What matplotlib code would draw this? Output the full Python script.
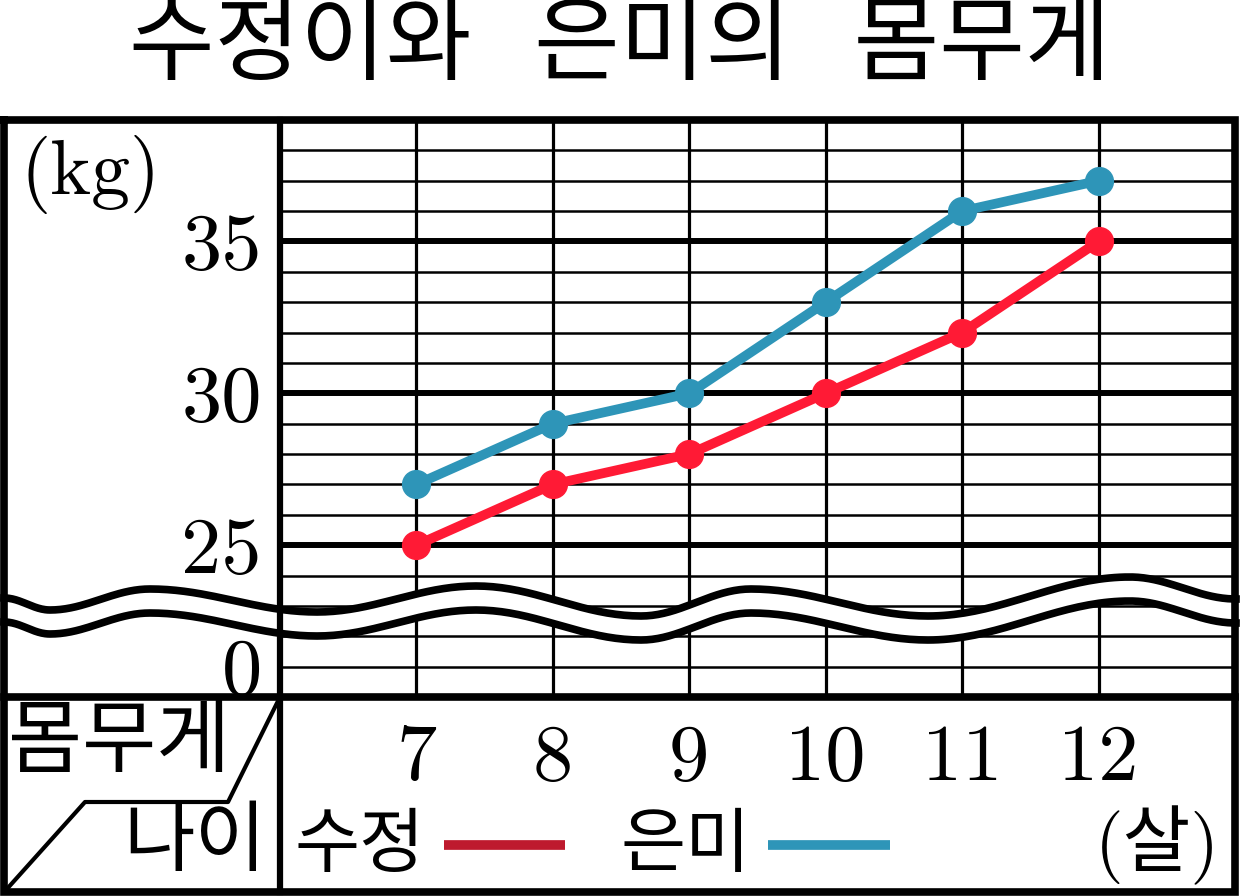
import numpy as np
import matplotlib.pyplot as plt

# data
ages = [7, 8, 9, 10, 11, 12]
sujeong = [25, 27, 28, 30, 32, 35]
eunmi = [27, 29, 30, 33, 36, 37]
# broken axis: the row at 21 stands for 0 kg
y_ticks = [21, 25, 30, 35]
y_labels = ['0', '25', '30', '35']

RED = '#FF1A35'
RED_KEY = '#BE1A2E'
BLUE = '#2E95B8'
KR = 'Noto Sans CJK KR'
NUM = ['cmr10', KR]

W, H = 1241, 896
fig = plt.figure(figsize=(W / 100, H / 100), dpi=100)


def box(x0, y0, x1, y1):
    # pixel box (top-left origin) -> figure fraction
    return [x0 / W, 1 - y1 / H, (x1 - x0) / W, (y1 - y0) / H]


# grid area
ax = fig.add_axes(box(280, 120, 1235, 697))
ax.set_xlim(6, 13)
ax.set_ylim(20, 39)
for y in range(21, 39):
    ax.axhline(y, color='black', lw=4.3 if y % 5 == 0 else 1.8, zorder=1)
for a in ages:
    ax.axvline(a, color='black', lw=2.3, zorder=1)
ax.plot(ages, sujeong, color=RED, lw=7, marker='o', ms=20, zorder=3)
ax.plot(ages, eunmi, color=BLUE, lw=7, marker='o', ms=20, zorder=3)
ax.set_xticks(ages, [str(a) for a in ages])
ax.set_yticks(y_ticks, y_labels)
ax.tick_params(axis='x', length=0, pad=20, labelsize=58)
ax.tick_params(axis='y', length=0, pad=13, labelsize=58)
for lbl in ax.get_xticklabels() + ax.get_yticklabels():
    lbl.set_family(NUM)
for s in ax.spines.values():
    s.set_visible(False)

# frame, break mark and text on top
fg = fig.add_axes([0, 0, 1, 1], zorder=5)
fg.set_xlim(0, W)
fg.set_ylim(H, 0)
fg.axis('off')
fg.patch.set_alpha(0)

# wave (axis break)
wx = [4, 50, 150, 317, 476, 641, 751, 928, 1130, 1236]
wy = [598, 610, 589, 612, 586, 616, 589, 616, 577, 599]
xs, ys = [], []
for i in range(len(wx) - 1):
    t = np.linspace(0, 1, 40)
    xs.extend(wx[i] + (wx[i + 1] - wx[i]) * t)
    ys.extend(wy[i] + (wy[i + 1] - wy[i]) * (1 - np.cos(np.pi * t)) / 2)
xs = np.array(xs)
ys = np.array(ys)
gap = 24
fg.fill_between(xs, ys, ys + gap, color='white', lw=0)
fg.plot(xs, ys, color='black', lw=5.5)
fg.plot(xs, ys + gap, color='black', lw=5.5)

# table lines
fg.plot([4, 1235, 1235, 4, 4], [120, 120, 892, 892, 120], color='black', lw=5.5,
        solid_joinstyle='miter')
fg.plot([280, 280], [120, 892], color='black', lw=4.5)
fg.plot([4, 1235], [697, 697], color='black', lw=5.5)
fg.plot([280, 228, 85, 6], [697, 802, 802, 890], color='black', lw=3)

# text
fg.text(620, 46, '수정이와   은미의   몸무게', ha='center', va='center',
        fontsize=67, family=KR)
fg.text(20, 174, '(kg)', ha='left', va='center', fontsize=56, family=NUM)
fg.text(8, 743, '몸무게', ha='left', va='center', fontsize=58, family=KR)
fg.text(266, 843, '나이', ha='right', va='center', fontsize=56, family=KR)
fg.text(294, 845, '수정', ha='left', va='center', fontsize=51, family=KR)
fg.text(620, 845, '은미', ha='left', va='center', fontsize=51, family=KR)
fg.text(1220, 845, '(살)', ha='right', va='center', fontsize=53, family=NUM)
fg.plot([444, 565], [845, 845], color=RED_KEY, lw=7, solid_capstyle='butt')
fg.plot([768, 890], [845, 845], color=BLUE, lw=7, solid_capstyle='butt')

fig.savefig('out.png', dpi=100)
